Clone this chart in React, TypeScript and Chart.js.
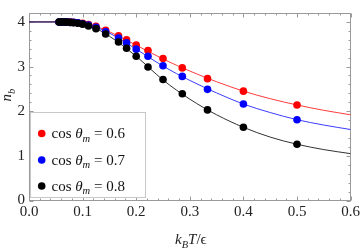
import React, { useEffect, useRef } from "react";
import { Chart, registerables } from "chart.js";

Chart.register(...registerables);

// ---- data ----
const xTickValues = [0, 0.1, 0.2, 0.3, 0.4, 0.5, 0.6];
const yTickValues = [0, 1, 2, 3, 4];
const seriesLabels = ["0.6", "0.7", "0.8"];

// simulation points (k_B T / eps)
const pointT = [0.5, 0.4, 0.333, 0.286, 0.25, 0.222, 0.2, 0.182, 0.167, 0.143, 0.125, 0.111, 0.1, 0.091, 0.083, 0.077, 0.071, 0.067, 0.063, 0.059, 0.056];
const pointsRed = [2.14, 2.45, 2.73, 2.97, 3.18, 3.36, 3.48, 3.6, 3.69, 3.81, 3.9, 3.94, 3.97, 3.98, 3.99, 4.0, 4.0, 4.0, 4.0, 4.0, 4.0];
const pointsBlue = [1.81, 2.16, 2.49, 2.78, 3.02, 3.23, 3.39, 3.53, 3.64, 3.78, 3.88, 3.93, 3.96, 3.98, 3.99, 3.99, 4.0, 4.0, 4.0, 4.0, 4.0];
const pointsBlack = [1.26, 1.64, 2.03, 2.39, 2.71, 2.99, 3.23, 3.41, 3.55, 3.73, 3.85, 3.91, 3.95, 3.97, 3.98, 3.99, 4.0, 4.0, 4.0, 4.0, 4.0];

// theory curves
const curveT = [0, 0.05, 0.08, 0.1, 0.125, 0.15, 0.2, 0.25, 0.3, 0.35, 0.4, 0.45, 0.5, 0.55, 0.6];
const curveRed = [4, 4, 3.99, 3.96, 3.9, 3.78, 3.48, 3.17, 2.9, 2.66, 2.45, 2.28, 2.14, 2.02, 1.92];
const curveBlue = [4, 4, 3.99, 3.95, 3.88, 3.75, 3.39, 3.01, 2.69, 2.41, 2.16, 1.97, 1.81, 1.69, 1.59];
const curveBlack = [4, 4, 3.98, 3.94, 3.85, 3.68, 3.23, 2.7, 2.27, 1.92, 1.64, 1.42, 1.26, 1.14, 1.05];

const pointColors = ["#ff0000", "#0000ff", "#000000"];
const lineColors = ["rgb(255,60,60)", "rgb(60,60,255)", "rgb(50,50,50)"];

const SERIF = '"Liberation Serif", "DejaVu Serif", serif';
const FONT_SIZE = 15;

type Seg = { text: string; italic?: boolean; sub?: boolean };

function richWidth(ctx: CanvasRenderingContext2D, segs: Seg[], size: number) {
  let w = 0;
  for (const s of segs) {
    const fs = s.sub ? size * 0.7 : size;
    ctx.font = `${s.italic ? "italic " : ""}${fs}px ${SERIF}`;
    w += ctx.measureText(s.text).width;
  }
  return w;
}

function drawRich(ctx: CanvasRenderingContext2D, segs: Seg[], x: number, y: number, size: number) {
  let cx = x;
  for (const s of segs) {
    const fs = s.sub ? size * 0.7 : size;
    ctx.font = `${s.italic ? "italic " : ""}${fs}px ${SERIF}`;
    const dy = s.sub ? size * 0.25 : 0;
    ctx.fillText(s.text, cx, y + dy);
    cx += ctx.measureText(s.text).width;
  }
}

const framePlugin = {
  id: "mmaFrame",
  beforeDatasetsDraw(chart: any) {
    const { ctx, chartArea } = chart;
    const xs = chart.scales.x;
    const ys = chart.scales.y;
    const l = Math.round(chartArea.left) + 0.5;
    const r = Math.round(chartArea.right) - 0.5;
    const t = Math.round(chartArea.top) + 0.5;
    const b = Math.round(chartArea.bottom) - 0.5;
    ctx.save();
    ctx.strokeStyle = "#9a9a9a";
    ctx.lineWidth = 1;
    ctx.strokeRect(l, t, r - l, b - t);
    ctx.beginPath();
    // x ticks (major 0.1, minor 0.02)
    for (let i = 0; i <= 30; i++) {
      const v = i * 0.02;
      const px = Math.round(xs.getPixelForValue(v)) + 0.5;
      const len = i % 5 === 0 ? 4 : 2;
      ctx.moveTo(px, b);
      ctx.lineTo(px, b - len);
      ctx.moveTo(px, t);
      ctx.lineTo(px, t + len);
    }
    // y ticks (major 1, minor 0.2)
    for (let i = 0; i <= 21; i++) {
      const v = i * 0.2;
      const py = Math.round(ys.getPixelForValue(v)) + 0.5;
      const len = i % 5 === 0 ? 4 : 2;
      ctx.moveTo(l, py);
      ctx.lineTo(l + len, py);
      ctx.moveTo(r, py);
      ctx.lineTo(r - len, py);
    }
    ctx.stroke();
    ctx.restore();
  },
  afterDatasetsDraw(chart: any) {
    const { ctx, chartArea } = chart;
    ctx.save();
    // legend box
    ctx.fillStyle = "#ffffff";
    ctx.strokeStyle = "#c8c8c8";
    ctx.lineWidth = 1;
    ctx.fillRect(30.5, 112.5, 115, 85);
    ctx.strokeRect(30.5, 112.5, 115, 85);
    const rowY = [133.5, 160, 186];
    ctx.textBaseline = "alphabetic";
    ctx.textAlign = "left";
    for (let i = 0; i < 3; i++) {
      ctx.fillStyle = pointColors[i];
      ctx.beginPath();
      ctx.arc(41.7, rowY[i], 3.8, 0, Math.PI * 2);
      ctx.fill();
      ctx.fillStyle = "#111111";
      drawRich(
        ctx,
        [
          { text: "cos " },
          { text: "θ", italic: true },
          { text: "m", italic: true, sub: true },
          { text: " = " + seriesLabels[i] },
        ],
        51.5,
        rowY[i] + 4.5,
        FONT_SIZE
      );
    }
    // x axis title
    ctx.fillStyle = "#222222";
    const xt: Seg[] = [
      { text: "k", italic: true },
      { text: "B", italic: true, sub: true },
      { text: "T", italic: true },
      { text: "/ϵ" },
    ];
    const w = richWidth(ctx, xt, FONT_SIZE);
    const cx = (chartArea.left + chartArea.right) / 2 + 1;
    drawRich(ctx, xt, cx - w / 2, 244, FONT_SIZE);
    // y axis title
    const yt: Seg[] = [
      { text: "n", italic: true },
      { text: "b", italic: true, sub: true },
    ];
    const wy = richWidth(ctx, yt, FONT_SIZE);
    ctx.translate(11, 95);
    ctx.rotate(-Math.PI / 2);
    drawRich(ctx, yt, -wy / 2, 0, FONT_SIZE);
    ctx.restore();
  },
};

function pairs(xs: number[], ys: number[]) {
  return xs.map((x, i) => ({ x, y: ys[i] }));
}

export default function App() {
  const ref = useRef<HTMLCanvasElement | null>(null);
  useEffect(() => {
    if (!ref.current) return;
    const pointSets = [pointsRed, pointsBlue, pointsBlack];
    const curveSets = [curveRed, curveBlue, curveBlack];
    const datasets: any[] = [];
    for (let i = 0; i < 3; i++) {
      datasets.push({
        label: "curve " + seriesLabels[i],
        data: pairs(curveT, curveSets[i]),
        showLine: true,
        borderColor: lineColors[i],
        borderWidth: 1,
        pointRadius: 0,
        cubicInterpolationMode: "monotone",
        order: 10 - i,
      });
    }
    for (let i = 0; i < 3; i++) {
      datasets.push({
        label: "cos θm = " + seriesLabels[i],
        data: pairs(pointT, pointSets[i]),
        showLine: false,
        backgroundColor: pointColors[i],
        borderWidth: 0,
        pointRadius: 3.8,
        order: 2 - i,
      });
    }
    const tickFont = { family: SERIF, size: FONT_SIZE };
    const chart = new Chart(ref.current, {
      type: "scatter",
      data: { datasets },
      options: {
        animation: false,
        responsive: false,
        devicePixelRatio: 1,
        layout: { padding: { left: 0, right: 9, top: 0, bottom: 0 } },
        plugins: { legend: { display: false }, tooltip: { enabled: false } },
        scales: {
          x: {
            type: "linear",
            min: 0,
            max: 0.6,
            grid: { display: false, drawTicks: false },
            border: { display: false },
            afterBuildTicks: (s: any) => {
              s.ticks = xTickValues.map((v) => ({ value: v }));
            },
            afterFit: (s: any) => {
              s.height = 47.5;
            },
            ticks: {
              callback: (v: any) => Number(v).toFixed(1),
              font: tickFont,
              color: "#222222",
              padding: 3,
              maxRotation: 0,
              autoSkip: false,
            },
          },
          y: {
            type: "linear",
            min: 0,
            max: 4.2,
            grid: { display: false, drawTicks: false },
            border: { display: false },
            afterBuildTicks: (s: any) => {
              s.ticks = yTickValues.map((v) => ({ value: v }));
            },
            afterFit: (s: any) => {
              s.width = 29;
            },
            ticks: {
              callback: (v: any) => String(v),
              font: tickFont,
              color: "#222222",
              padding: 4,
              autoSkip: false,
            },
          },
        },
      } as any,
      plugins: [framePlugin],
    });
    return () => chart.destroy();
  }, []);
  return (
    <div style={{ position: "fixed", left: 0, top: 0, width: 363, height: 248, background: "#fff" }}>
      <canvas ref={ref} width={363} height={248} style={{ display: "block" }} />
    </div>
  );
}
